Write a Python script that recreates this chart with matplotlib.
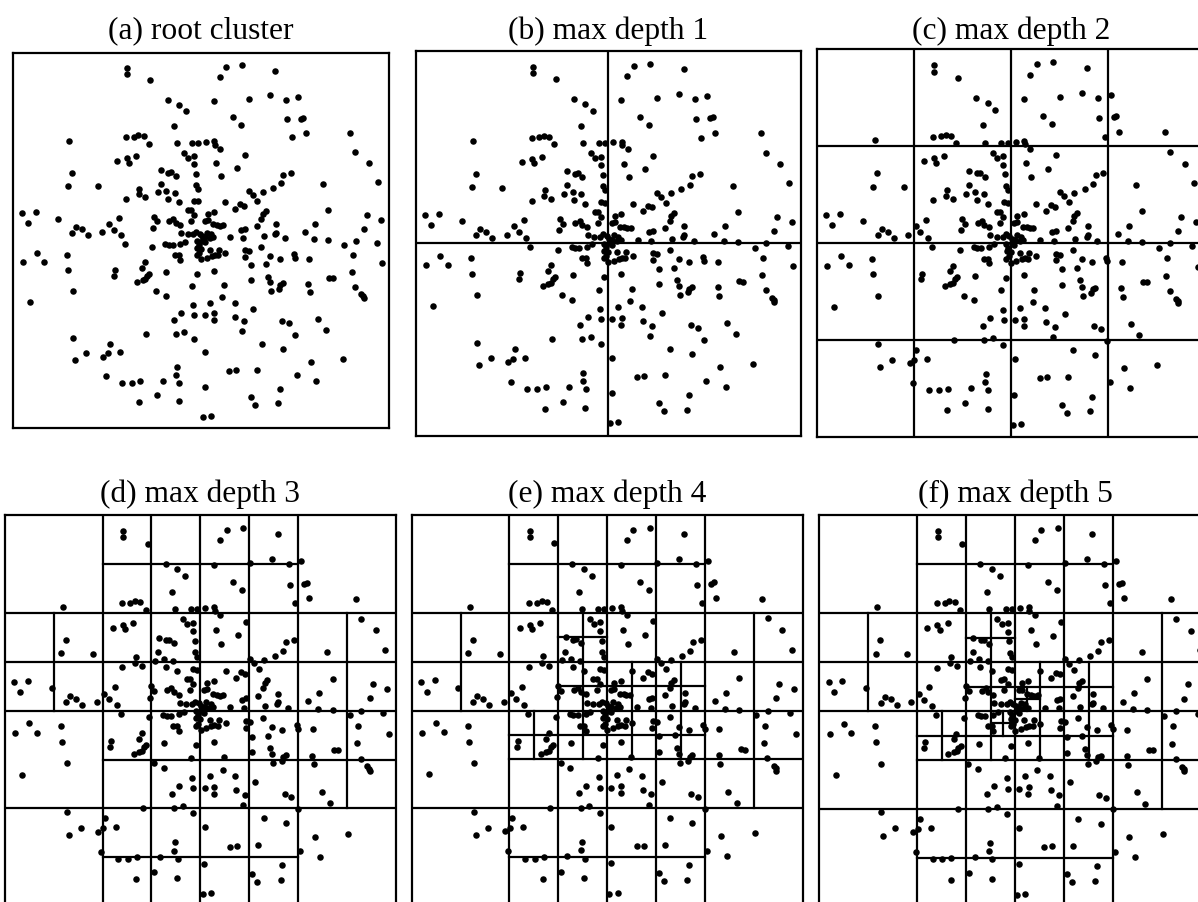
import numpy as np
import matplotlib.pyplot as plt

OUTPUT_FILE = "out.png"

# bounds of the root cluster (same range on both axes, y grows downwards)
ROOT_MIN, ROOT_MAX = 33, 1186

# point positions
PX = [383, 383, 735, 687, 837, 667, 454, 822, 907, 870, 756, 649, 507, 541, 564, 706, 733, 873, 916, 923,
      527, 1067, 931, 889, 205, 380, 403, 416, 433, 448, 534, 582, 600, 624, 650, 652, 668, 1083, 745, 558,
      570, 588, 351, 381, 388, 411, 656, 588, 1126, 720, 213, 487, 509, 518, 532, 593, 671, 862, 885, 854,
      983, 1153, 200, 292, 485, 595, 420, 418, 438, 477, 503, 529, 829, 798, 756, 769, 600, 380, 508, 541,
      589, 600, 684, 729, 741, 782, 714, 999, 61, 102, 78, 171, 569, 578, 588, 578, 629, 649, 807, 799,
      794, 1117, 1160, 358, 464, 473, 511, 524, 531, 546, 620, 629, 646, 658, 666, 677, 780, 838, 960, 226,
      244, 262, 214, 305, 327, 341, 364, 461, 733, 743, 838, 835, 1108, 927, 549, 568, 586, 595, 605, 612,
      622, 627, 640, 647, 698, 738, 801, 867, 957, 999, 1084, 1149, 1049, 376, 459, 500, 510, 522, 546, 560,
      596, 602, 612, 620, 636, 598, 609, 637, 664, 684, 745, 757, 794, 106, 64, 128, 198, 201, 530, 542,
      546, 597, 603, 610, 626, 642, 651, 661, 743, 761, 822, 851, 893, 897, 940, 1074, 1165, 437, 429, 345,
      343, 503, 597, 649, 808, 1072, 1003, 1015, 450, 443, 438, 430, 413, 816, 822, 763, 861, 853, 849, 824,
      938, 943, 1082, 1101, 1107, 1108, 216, 581, 680, 472, 501, 675, 638, 712, 83, 586, 770, 548, 589, 650,
      622, 649, 714, 740, 526, 858, 878, 967, 992, 734, 897, 216, 441, 531, 557, 587, 796, 861, 329, 622,
      257, 222, 323, 309, 361, 1045, 946, 535, 696, 717, 780, 533, 543, 318, 367, 396, 422, 491, 904, 963,
      620, 851, 473, 420, 541, 762, 776, 846, 616, 640]
PY = [80, 99, 72, 77, 88, 108, 117, 162, 168, 178, 175, 180, 177, 193, 213, 230, 254, 238, 235, 232,
      259, 280, 278, 293, 303, 293, 292, 287, 290, 312, 310, 310, 310, 307, 305, 315, 328, 338, 347, 340,
      355, 350, 365, 356, 370, 351, 371, 376, 373, 388, 401, 394, 401, 400, 411, 405, 412, 408, 402, 434,
      437, 430, 441, 443, 436, 438, 450, 468, 477, 462, 457, 463, 448, 460, 458, 470, 451, 482, 481, 492,
      487, 489, 492, 497, 502, 488, 513, 515, 524, 521, 555, 542, 517, 516, 530, 548, 527, 522, 520, 528,
      542, 531, 547, 540, 537, 551, 550, 543, 555, 562, 549, 547, 560, 562, 565, 563, 565, 559, 558, 567,
      575, 593, 585, 584, 559, 576, 594, 571, 577, 573, 585, 590, 573, 582, 586, 590, 590, 583, 588, 596,
      600, 585, 590, 600, 600, 602, 597, 602, 604, 607, 610, 617, 623, 620, 629, 621, 624, 624, 620, 613,
      612, 622, 610, 615, 602, 632, 635, 637, 637, 647, 640, 643, 630, 647, 676, 674, 655, 701, 655, 655,
      669, 655, 648, 667, 662, 656, 653, 655, 660, 686, 657, 666, 652, 663, 665, 654, 679, 676, 693, 700,
      717, 706, 712, 703, 683, 706, 724, 725, 711, 717, 728, 731, 737, 720, 738, 732, 741, 746, 757, 765,
      742, 768, 751, 774, 780, 787, 765, 749, 747, 765, 779, 783, 801, 802, 798, 807, 819, 831, 838, 833,
      838, 854, 843, 857, 854, 856, 864, 849, 883, 888, 899, 908, 897, 897, 891, 911, 926, 941, 927, 953,
      955, 976, 956, 966, 953, 972, 981, 998, 1010, 1008, 1006, 1022, 1046, 1025, 1046, 1046, 1042, 1040, 1023, 1040,
      1060, 1065, 1085, 1106, 1103, 1090, 1113, 1109, 1150, 1147]

# a cluster with more points than this gets split (until max depth is reached)
LEAF_SIZE = 9

TITLES = ["(a) root cluster", "(b) max depth 1", "(c) max depth 2",
          "(d) max depth 3", "(e) max depth 4", "(f) max depth 5"]
MAX_DEPTHS = [0, 1, 2, 3, 4, 5]

FIG_W, FIG_H = 1198, 902
# left, top, size of every panel in pixels
PANELS = [(13.3, 52.7, 375.7), (416.0, 51.0, 384.5), (816.7, 49.3, 388.0),
          (4.7, 515.0, 391.3), (411.7, 515.0, 391.0), (819.0, 515.0, 392.0)]
TITLE_BASELINE = [38.5, 38.5, 38.5, 501.7, 501.7, 501.7]


def quadtree_lines(xs, ys, x0, y0, x1, y1, depth, max_depth, out):
    """Recursively split the cell into 4 and collect the split lines."""
    if depth >= max_depth or len(xs) <= LEAF_SIZE:
        return
    xm, ym = (x0 + x1) / 2, (y0 + y1) / 2
    out.append(((xm, xm), (y0, y1)))
    out.append(((x0, x1), (ym, ym)))
    for cx0, cx1 in ((x0, xm), (xm, x1)):
        for cy0, cy1 in ((y0, ym), (ym, y1)):
            m = (xs >= cx0) & (xs < cx1) & (ys >= cy0) & (ys < cy1)
            quadtree_lines(xs[m], ys[m], cx0, cy0, cx1, cy1, depth + 1, max_depth, out)


def main():
    plt.rcParams['font.family'] = ['Liberation Serif', 'DejaVu Serif']
    xs = np.array(PX, dtype=float)
    ys = np.array(PY, dtype=float)

    fig = plt.figure(figsize=(FIG_W / 100, FIG_H / 100), dpi=100)

    for (left, top, size), title, depth, base in zip(PANELS, TITLES, MAX_DEPTHS, TITLE_BASELINE):
        ax = fig.add_axes([left / FIG_W, 1 - (top + size) / FIG_H, size / FIG_W, size / FIG_H])
        ax.set_xlim(ROOT_MIN, ROOT_MAX)
        ax.set_ylim(ROOT_MAX, ROOT_MIN)
        ax.set_xticks([])
        ax.set_yticks([])
        for sp in ax.spines.values():
            sp.set_linewidth(1.6)
            sp.set_color('black')

        lines = []
        quadtree_lines(xs, ys, ROOT_MIN, ROOT_MIN, ROOT_MAX + 1e-9, ROOT_MAX + 1e-9, 0, depth, lines)
        for lx, ly in lines:
            ax.plot(lx, ly, color='black', linewidth=1.6, solid_capstyle='projecting', zorder=1)

        ax.scatter(xs, ys, s=22, color='black', linewidths=0, zorder=2)

        fig.text((left + size / 2) / FIG_W, 1 - base / FIG_H, title,
                 ha='center', va='baseline', fontsize=22.7)

    fig.savefig(OUTPUT_FILE, dpi=100)


if __name__ == "__main__":
    main()
